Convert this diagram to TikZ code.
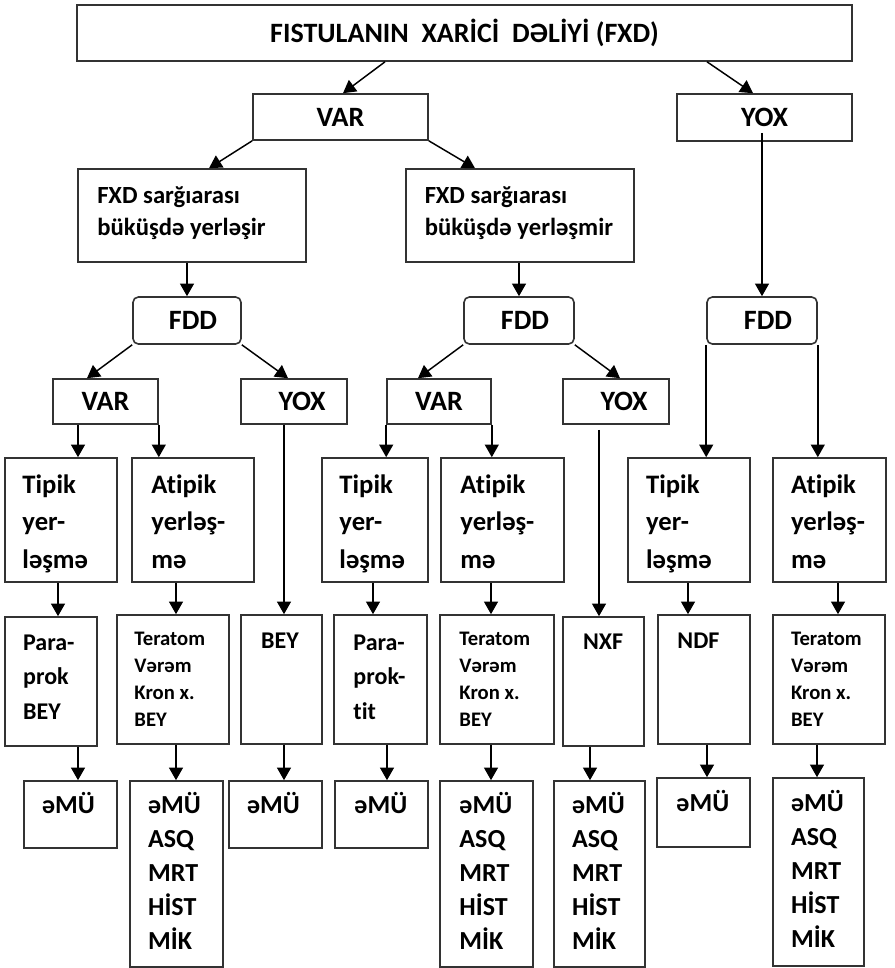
\documentclass[tikz,border=0pt]{standalone}
\usepackage{fontspec}
\setmainfont{Carlito}[Ligatures=NoCommon]
\usetikzlibrary{positioning,fit,calc,arrows.meta}

\tikzset{
  box/.style={rectangle, draw=black!80, line width=1.2pt, inner sep=0pt},
  fddbox/.style={box, rounded corners=4pt},
  lbl/.style={inner sep=0pt, font=\bfseries\fontsize{21}{24}\selectfont},
  txt/.style={inner sep=0pt, anchor=north west, align=left, font=\bfseries\fontsize{20}{28}\selectfont},
  txtfxd/.style={txt, font=\bfseries\fontsize{18.5}{24}\selectfont},
  txtpara/.style={txt, font=\bfseries\fontsize{18}{26}\selectfont},
  txtsmall/.style={txt, font=\bfseries\fontsize{15.5}{20.25}\selectfont},
  txtlist/.style={txt, font=\bfseries\fontsize{19.5}{25.5}\selectfont},
  arr/.style={line width=1.1pt, -{Triangle[width=10.5pt,length=9.5pt]}},
}

\begin{document}
\begin{tikzpicture}[x=0.75pt, y=-0.75pt]
  \useasboundingbox (0,0) rectangle (894,968);

  \node[box, fit={(77,5) (852,61)}] (fxd) {};
  \node[lbl] (fxd-t) at (fxd) {FISTULANIN\ \ XARİCİ\ \ DƏLİYİ (FXD)};
  \node[box, fit={(253,94) (428,140)}] (var1) {};
  \node[lbl] (var1-t) at (var1) {VAR};
  \node[box, fit={(677,94) (852,141)}] (yox1) {};
  \node[lbl] (yox1-t) at (yox1) {YOX};

  \node[box, fit={(78,169) (306,262)}] (fxdl) {};
  \node[txtfxd, below right=13.5pt and 15pt of fxdl.north west] (fxdl-t) {FXD sarğıarası\\büküşdə yerləşir};
  \node[box, fit={(406,169) (634,262)}] (fxdr) {};
  \node[txtfxd, below right=13.5pt and 14.5pt of fxdr.north west] (fxdr-t) {FXD sarğıarası\\büküşdə yerləşmir};

  \node[fddbox, fit={(133,297) (241,344)}] (fddl) {};
  \node[lbl, xshift=4.5pt] (fddl-t) at (fddl) {FDD};
  \node[fddbox, fit={(464,297) (574,344)}] (fddm) {};
  \node[lbl, xshift=4.5pt] (fddm-t) at (fddm) {FDD};
  \node[fddbox, fit={(707,297) (817,344)}] (fddr) {};
  \node[lbl, xshift=4.5pt] (fddr-t) at (fddr) {FDD};

  \node[box, fit={(53,379) (158,424)}] (var2) {};
  \node[lbl] (var2-t) at (var2) {VAR};
  \node[box, fit={(241,379) (347,424)}] (yox2) {};
  \node[lbl, xshift=6pt] (yox2-t) at (yox2) {YOX};
  \node[box, fit={(387,379) (491,424)}] (var3) {};
  \node[lbl] (var3-t) at (var3) {VAR};
  \node[box, fit={(563,379) (669,424)}] (yox3) {};
  \node[lbl, xshift=6pt] (yox3-t) at (yox3) {YOX};

  \node[box, fit={(5,458) (117,582)}] (tip1) {};
  \node[txt, below right=13pt and 13.5pt of tip1.north west] (tip1-t) {Tipik\\yer-\\ləşmə};
  \node[box, fit={(132,458) (254,582)}] (atip1) {};
  \node[txt, below right=13pt and 15pt of atip1.north west] (atip1-t) {Atipik\\yerləş-\\mə};
  \node[box, fit={(322,458) (428,582)}] (tip2) {};
  \node[txt, below right=13pt and 13.5pt of tip2.north west] (tip2-t) {Tipik\\yer-\\ləşmə};
  \node[box, fit={(441,458) (564,582)}] (atip2) {};
  \node[txt, below right=13pt and 15pt of atip2.north west] (atip2-t) {Atipik\\yerləş-\\mə};
  \node[box, fit={(628,458) (750,582)}] (tip3) {};
  \node[txt, below right=13pt and 14pt of tip3.north west] (tip3-t) {Tipik\\yer-\\ləşmə};
  \node[box, fit={(773,458) (886,582)}] (atip3) {};
  \node[txt, below right=13pt and 14pt of atip3.north west] (atip3-t) {Atipik\\yerləş-\\mə};

  \node[box, fit={(5,617) (97,746)}] (para1) {};
  \node[txtpara, below right=13.5pt and 14pt of para1.north west] (para1-t) {Para-\\prok\\BEY};
  \node[box, fit={(117,615) (229,744)}] (ter1) {};
  \node[txtsmall, below right=13.5pt and 13.5pt of ter1.north west] (ter1-t) {Teratom\\Vərəm\\Kron x.\\BEY};
  \node[box, fit={(241,615) (322,744)}] (bey) {};
  \node[txtpara, below right=13.5pt and 15.5pt of bey.north west] (bey-t) {BEY};
  \node[box, fit={(334,615) (427,744)}] (para2) {};
  \node[txtpara, below right=15pt and 15pt of para2.north west] (para2-t) {Para-\\prok-\\tit};
  \node[box, fit={(440,615) (554,744)}] (ter2) {};
  \node[txtsmall, below right=13.5pt and 15pt of ter2.north west] (ter2-t) {Teratom\\Vərəm\\Kron x.\\BEY};
  \node[box, fit={(563,617) (644,746)}] (nxf) {};
  \node[txtpara, below right=12.75pt and 15.5pt of nxf.north west] (nxf-t) {NXF};
  \node[box, fit={(658,615) (750,744)}] (ndf) {};
  \node[txtpara, below right=13.5pt and 15pt of ndf.north west] (ndf-t) {NDF};
  \node[box, fit={(773,615) (885,744)}] (ter3) {};
  \node[txtsmall, below right=13.5pt and 14pt of ter3.north west] (ter3-t) {Teratom\\Vərəm\\Kron x.\\BEY};

  \node[box, fit={(24,781) (117,848)}] (emu1) {};
  \node[txtlist, below right=9pt and 14pt of emu1.north west] (emu1-t) {əMÜ};
  \node[box, fit={(130,781) (223,967)}] (lst1) {};
  \node[txtlist, below right=9pt and 14pt of lst1.north west] (lst1-t) {əMÜ\\ASQ\\MRT\\HİST\\MİK};
  \node[box, fit={(229,781) (322,848)}] (emu2) {};
  \node[txtlist, below right=9pt and 14pt of emu2.north west] (emu2-t) {əMÜ};
  \node[box, fit={(335,781) (428,848)}] (emu3) {};
  \node[txtlist, below right=9pt and 15pt of emu3.north west] (emu3-t) {əMÜ};
  \node[box, fit={(440,781) (533,967)}] (lst2) {};
  \node[txtlist, below right=9pt and 15pt of lst2.north west] (lst2-t) {əMÜ\\ASQ\\MRT\\HİST\\MİK};
  \node[box, fit={(554,781) (645,967)}] (lst3) {};
  \node[txtlist, below right=9pt and 14pt of lst3.north west] (lst3-t) {əMÜ\\ASQ\\MRT\\HİST\\MİK};
  \node[box, fit={(657,778) (750,847)}] (emu4) {};
  \node[txtlist, below right=9.5pt and 15pt of emu4.north west] (emu4-t) {əMÜ};
  \node[box, fit={(773,778) (864,966)}] (lst4) {};
  \node[txtlist, below right=9.5pt and 14pt of lst4.north west] (lst4-t) {əMÜ\\ASQ\\MRT\\HİST\\MİK};

  \draw[arr] (fxd.south -| 385,0) -- (var1.north -| 343,0);
  \draw[arr] (fxd.south -| 707,0) -- (yox1.north -| 753,0);
  \draw[arr] (var1.south west) -- (fxdl.north -| 209,0);
  \draw[arr] (var1.south east) -- (fxdr.north -| 475,0);
  \draw[arr] ($(fddr.north |- yox1.south)+(0,-9)$) -- (fddr.north);
  \draw[arr] (fxdl.south -| fddl.north) -- (fddl.north);
  \draw[arr] (fxdr.south -| fddm.north) -- (fddm.north);

  \draw[arr] (fddl.south west) -- (var2.north -| 87,0);
  \draw[arr] (fddl.south east) -- (yox2.north -| 288,0);
  \draw[arr] (fddm.south west) -- (var3.north -| 418,0);
  \draw[arr] (fddm.south east) -- (yox3.north -| 620,0);
  \draw[arr] (fddr.south west) -- (tip3.north -| fddr.south west);
  \draw[arr] (fddr.south east) -- (atip3.north -| fddr.south east);

  \draw[arr] (var2.south -| 78,0) -- (tip1.north -| 78,0);
  \draw[arr] (var2.south east) -- (atip1.north -| var2.south east);
  \draw[arr] (var3.south west) -- (tip2.north -| var3.south west);
  \draw[arr] (var3.south east) -- (atip2.north -| var3.south east);
  \draw[arr] (yox2.south -| 284,0) -- (bey.north -| 284,0);
  \draw[arr] ($(yox3.south -| 599,0)+(0,5)$) -- (nxf.north -| 599,0);

  \draw[arr] (tip1.south -| 58,0) -- (para1.north -| 58,0);
  \draw[arr] (atip1.south -| 176,0) -- (ter1.north -| 176,0);
  \draw[arr] (tip2.south -| 373,0) -- (para2.north -| 373,0);
  \draw[arr] (atip2.south -| 491,0) -- (ter2.north -| 491,0);
  \draw[arr] (tip3.south -| 688,0) -- (ndf.north -| 688,0);
  \draw[arr] (atip3.south -| 838,0) -- (ter3.north -| 838,0);

  \draw[arr] (para1.south -| 78,0) -- (emu1.north -| 78,0);
  \draw[arr] (ter1.south -| 176,0) -- (lst1.north -| 176,0);
  \draw[arr] (bey.south -| 284,0) -- (emu2.north -| 284,0);
  \draw[arr] (para2.south -| 387,0) -- (emu3.north -| 387,0);
  \draw[arr] (ter2.south -| 491,0) -- (lst2.north -| 491,0);
  \draw[arr] (nxf.south -| 590,0) -- (lst3.north -| 590,0);
  \draw[arr] (ndf.south -| 707,0) -- (emu4.north -| 707,0);
  \draw[arr] (ter3.south -| 817,0) -- (lst4.north -| 817,0);
\end{tikzpicture}
\end{document}
